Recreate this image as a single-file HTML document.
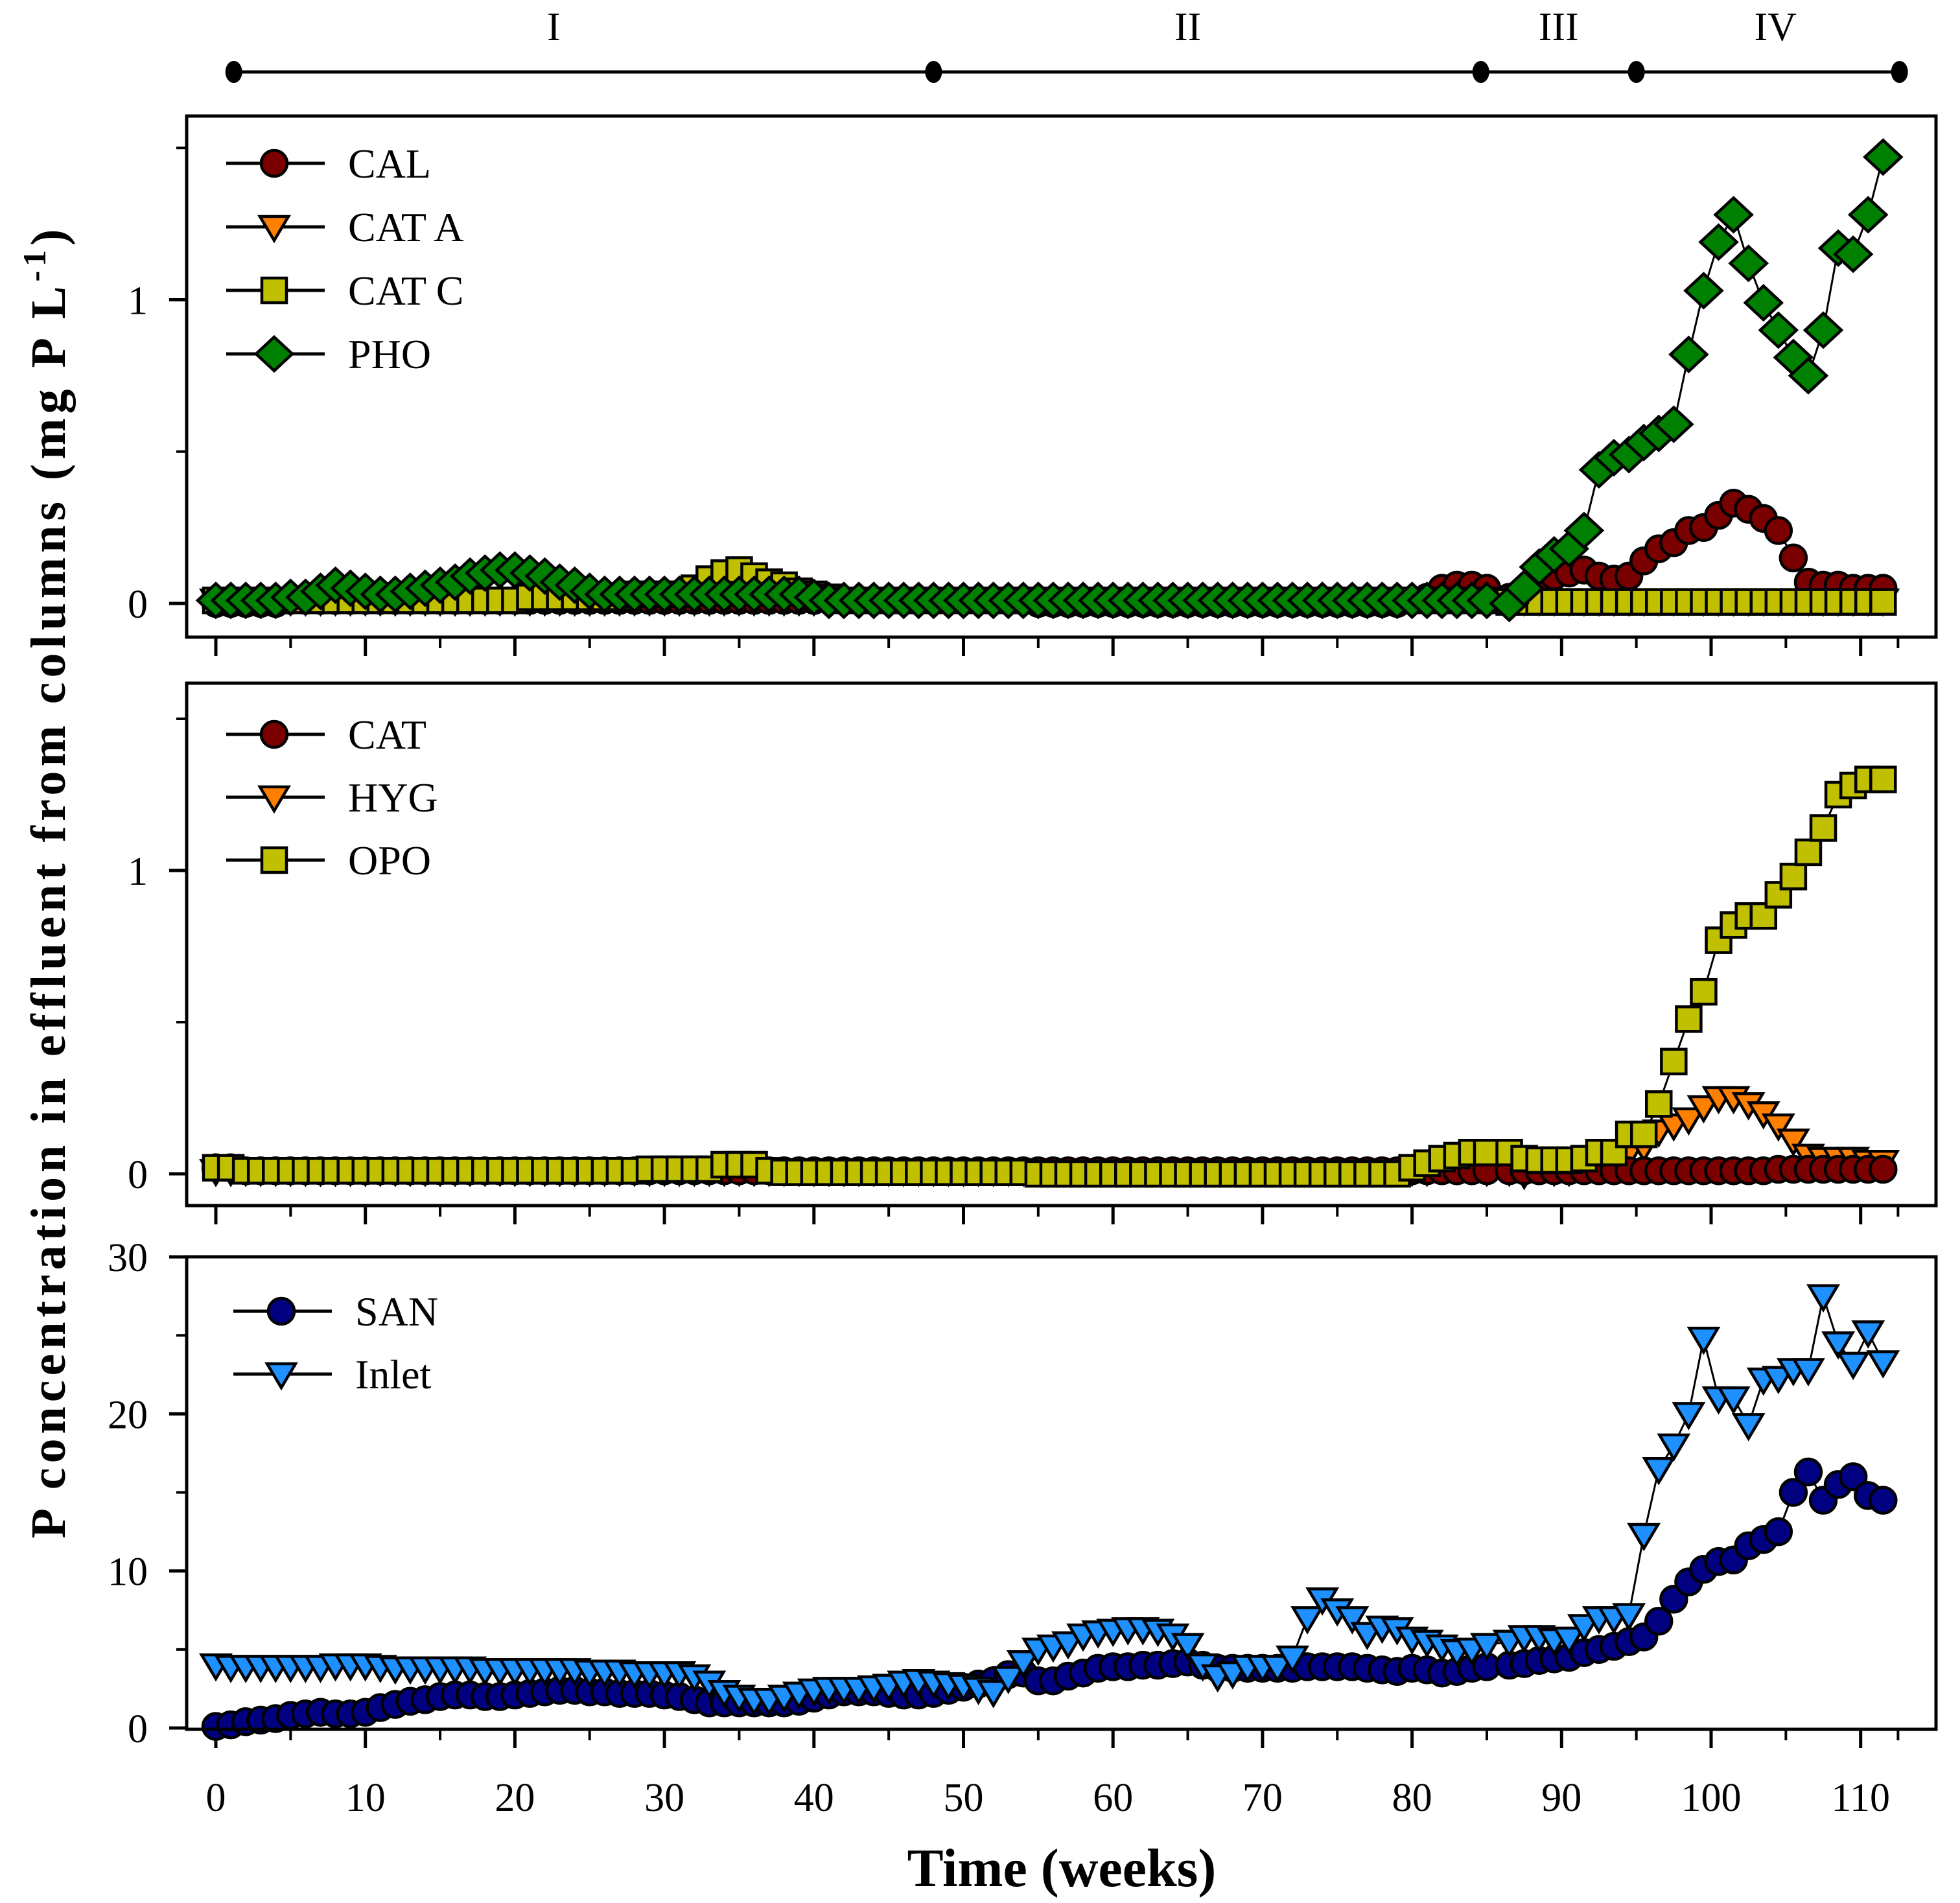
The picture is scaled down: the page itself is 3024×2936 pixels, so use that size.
<!DOCTYPE html>
<html><head><meta charset="utf-8"><style>
html,body{margin:0;padding:0;background:#fff;}
svg{display:block;font-family:"Liberation Serif",serif;}
</style></head><body>
<svg id="chart" width="3024" height="2936" viewBox="0 0 3024 2936" xmlns="http://www.w3.org/2000/svg"></svg>
<script>
// ---- data ----
const weeks=[0,1,2,3,4,5,6,7,8,9,10,11,12,13,14,15,16,17,18,19,20,21,22,23,24,25,26,27,28,29,30,31,32,33,34,35,36,37,38,39,40,41,42,43,44,45,46,47,48,49,50,51,52,53,54,55,56,57,58,59,60,61,62,63,64,65,66,67,68,69,70,71,72,73,74,75,76,77,78,79,80,81,82,83,84,85,86.5,87.5,88.5,89.5,90.5,91.5,92.5,93.5,94.5,95.5,96.5,97.5,98.5,99.5,100.5,101.5,102.5,103.5,104.5,105.5,106.5,107.5,108.5,109.5,110.5,111.5];
const xTicks=[0,10,20,30,40,50,60,70,80,90,100,110];
const xMinor=[5,15,25,35,45,55,65,75,85,95,105,112.5];
const phaseWeeks=[1.2,48,84.6,95,112.6];
const phaseLabels=["I","II","III","IV"];
const phaseLabelWeeks=[22.6,65,89.8,104.3];
// panel 1
const cal=[0,0,0,0,0,0.01,0.01,0.01,0.01,0.01,0.01,0.01,0.01,0.01,0.01,0.01,0.01,0.01,0.01,0.01,0.01,0.01,0.01,0.01,0.01,0.01,0.01,0.01,0.01,0.01,0.01,0.01,0.01,0.01,0.01,0.01,0.01,0.01,0.01,0.01,0.01,0.01,0.01,0.01,0.01,0.01,0.01,0.01,0.01,0.01,0.01,0.01,0.01,0.01,0.01,0,0,0,0,0,0,0,0,0,0,0,0,0,0,0,0,0,0,0,0,0,0,0,0,0,0.01,0.02,0.05,0.06,0.06,0.05,0.02,0.03,0.05,0.09,0.10,0.11,0.09,0.08,0.09,0.14,0.18,0.20,0.24,0.25,0.29,0.33,0.31,0.28,0.24,0.15,0.07,0.06,0.06,0.05,0.05,0.05];
const catA=[0.01,0.01,0.01,0.01,0.01,0.01,0.01,0.01,0.01,0.01,0.01,0.01,0.01,0.01,0.01,0.01,0.01,0.01,0.01,0.01,0.01,0.01,0.01,0.01,0.01,0.01,0.01,0.01,0.01,0.01,0.01,0.01,0.01,0.01,0.01,0.01,0.01,0.01,0.01,0.01,0.01,0.01,0.01,0.01,0.01,0.01,0.01,0.01,0.01,0.01,0.01,0.01,0.01,0.01,0.01,0.01,0.01,0.01,0.01,0.01,0.01,0.01,0.01,0.01,0.01,0.01,0.01,0.01,0.01,0.01,0.01,0.01,0.01,0.01,0.01,0.01,0.01,0.01,0.01,0.01,0.01,0.01,0.01,0.01,0.01,0.01,0.01,0.01,0.01,0.01,0.01,0.01,0.01,0.01,0.01,0.01,0.01,0.01,0.01,0.01,0.01,0.01,0.01,0.01,0.01,0.01,0.01,0.01,0.01,0.01,0.01,0.01];
const catC=[0.01,0.01,0.01,0.01,0.01,0.01,0.01,0.01,0.01,0.01,0.01,0.01,0.01,0.01,0.01,0.01,0.01,0.01,0.01,0.01,0.01,0.02,0.02,0.02,0.02,0.02,0.02,0.02,0.03,0.03,0.03,0.03,0.05,0.08,0.10,0.11,0.09,0.07,0.06,0.04,0.03,0.02,0.01,0.01,0.01,0.01,0.01,0.01,0.01,0.01,0.01,0.01,0.01,0.01,0.01,0.01,0.01,0.01,0.01,0.01,0.01,0.01,0.01,0.01,0.01,0.01,0.01,0.01,0.01,0.01,0.01,0.01,0.01,0.01,0.01,0.01,0.01,0.01,0.01,0.01,0.01,0.01,0.01,0.01,0.01,0.01,0.005,0.005,0.005,0.005,0.005,0.005,0.005,0.005,0.005,0.005,0.005,0.005,0.005,0.005,0.005,0.005,0.005,0.005,0.005,0.005,0.005,0.005,0.005,0.005,0.005,0.005];
const pho=[0.01,0.01,0.01,0.01,0.01,0.02,0.02,0.04,0.06,0.05,0.04,0.03,0.03,0.04,0.05,0.06,0.07,0.09,0.10,0.11,0.11,0.10,0.09,0.07,0.06,0.04,0.03,0.03,0.03,0.03,0.03,0.03,0.03,0.03,0.03,0.03,0.03,0.03,0.03,0.03,0.02,0.01,0.01,0.01,0.01,0.01,0.01,0.01,0.01,0.01,0.01,0.01,0.01,0.01,0.01,0.01,0.01,0.01,0.01,0.01,0.01,0.01,0.01,0.01,0.01,0.01,0.01,0.01,0.01,0.01,0.01,0.01,0.01,0.01,0.01,0.01,0.01,0.01,0.01,0.01,0.01,0.01,0.01,0.01,0.01,0.01,0,0.05,0.12,0.16,0.18,0.24,0.44,0.48,0.49,0.53,0.56,0.59,0.82,1.03,1.19,1.28,1.12,0.99,0.90,0.81,0.75,0.90,1.17,1.15,1.28,1.47];
// panel 2
const cat=[0.02,0.02,0.01,0.01,0.01,0.01,0.01,0.01,0.01,0.01,0.01,0.01,0.01,0.01,0.01,0.01,0.01,0.01,0.01,0.01,0.01,0.01,0.01,0.01,0.01,0.01,0.01,0.01,0.01,0.01,0.01,0.01,0.01,0.01,0.01,0.01,0.01,0.01,0.01,0.01,0.01,0.01,0.01,0.01,0.01,0.01,0.01,0.01,0.01,0.01,0.01,0.01,0.01,0.01,0.01,0.01,0.01,0.01,0.01,0.01,0.01,0.01,0.01,0.01,0.01,0.01,0.01,0.01,0.01,0.01,0.01,0.01,0.01,0.01,0.01,0.01,0.01,0.01,0.01,0.01,0.01,0.01,0.01,0.01,0.01,0.01,0.01,0.01,0.01,0.01,0.01,0.01,0.01,0.01,0.01,0.01,0.01,0.01,0.01,0.01,0.01,0.01,0.01,0.01,0.015,0.015,0.015,0.015,0.015,0.015,0.015,0.015];
const hyg=[0.01,0.01,0.01,0.01,0.01,0.01,0.01,0.01,0.01,0.01,0.01,0.01,0.01,0.01,0.01,0.01,0.01,0.01,0.01,0.01,0.01,0.01,0.01,0.01,0.01,0.01,0.01,0.01,0.01,0.01,0.01,0.01,0.01,0.01,0.01,0.01,0.01,0.01,0.01,0.01,0.01,0.01,0.01,0.01,0.01,0.01,0.01,0.01,0.01,0.01,0.01,0.01,0.01,0.01,0.01,0.01,0.01,0.01,0.01,0.01,0.01,0.01,0.01,0.01,0.01,0.01,0.01,0.01,0.01,0.01,0.01,0.01,0.01,0.01,0.01,0.01,0.01,0.01,0.01,0.01,0.01,0.01,0.02,0.03,0.02,0.01,0.01,0,0.02,0.01,0.01,0.02,0.02,0.04,0.07,0.09,0.14,0.16,0.18,0.22,0.25,0.25,0.23,0.20,0.16,0.11,0.06,0.05,0.05,0.05,0.04,0.04];
const opo=[0.02,0.02,0.01,0.01,0.01,0.01,0.01,0.01,0.01,0.01,0.01,0.01,0.01,0.01,0.01,0.01,0.01,0.01,0.01,0.01,0.01,0.01,0.01,0.01,0.01,0.01,0.01,0.01,0.01,0.015,0.015,0.015,0.015,0.015,0.03,0.03,0.03,0.01,0.005,0.005,0.005,0.005,0.005,0.005,0.005,0.005,0.005,0.005,0.005,0.005,0.005,0.005,0.005,0.005,0.005,0,0,0,0,0,0,0,0,0,0,0,0,0,0,0,0,0,0,0,0,0,0,0,0,0,0.02,0.035,0.05,0.06,0.07,0.07,0.07,0.05,0.045,0.045,0.045,0.05,0.07,0.07,0.13,0.13,0.23,0.37,0.51,0.60,0.77,0.82,0.85,0.85,0.92,0.98,1.06,1.14,1.25,1.28,1.30,1.30];
// panel 3
const san=[0.1,0.2,0.4,0.5,0.6,0.8,0.9,1.0,0.9,0.9,1.0,1.3,1.5,1.7,1.8,2.0,2.1,2.1,2.0,2.0,2.1,2.2,2.3,2.4,2.4,2.3,2.3,2.2,2.2,2.2,2.1,2.0,1.8,1.6,1.6,1.6,1.6,1.6,1.6,1.7,1.9,2.1,2.3,2.3,2.3,2.2,2.1,2.1,2.2,2.4,2.6,2.8,3.0,3.4,3.5,3.0,3.0,3.3,3.5,3.8,3.9,3.9,4.0,4.0,4.1,4.2,4.0,3.8,3.8,3.8,3.8,3.8,3.8,3.9,3.9,3.9,3.9,3.8,3.7,3.6,3.8,3.7,3.5,3.6,3.8,3.9,4.0,4.1,4.3,4.4,4.5,4.8,5.0,5.2,5.5,5.8,6.8,8.2,9.3,10.1,10.6,10.7,11.6,12.0,12.5,15.0,16.3,14.5,15.5,16.0,14.8,14.5];
const inlet=[4.0,3.9,3.9,3.9,3.9,3.9,3.9,3.9,4.0,4.0,4.0,3.9,3.8,3.8,3.8,3.8,3.8,3.8,3.7,3.7,3.7,3.7,3.7,3.7,3.7,3.6,3.6,3.6,3.5,3.5,3.5,3.5,3.3,2.9,2.3,2.0,1.8,1.8,2.0,2.2,2.4,2.5,2.5,2.5,2.6,2.7,2.9,3.0,2.9,2.8,2.7,2.5,2.3,3.2,4.2,5.0,5.2,5.4,5.9,6.1,6.2,6.3,6.3,6.2,5.9,5.3,4.0,3.3,3.5,3.9,3.9,3.9,4.5,7.0,8.2,7.5,7.0,6.0,6.4,6.3,5.7,5.5,5.2,4.9,5.0,5.3,5.5,5.8,5.8,5.6,5.7,6.5,7.0,7.0,7.2,12.3,16.5,18.0,20.0,24.8,21.0,21.0,19.3,22.2,22.3,22.8,22.8,27.5,24.5,23.2,25.2,23.3];

// ---- layout ----
const NS="http://www.w3.org/2000/svg";
const svg=document.getElementById('chart');
const L=288,R=2987;
const xs=w=>333+23.07*w;
function el(tag,attrs,parent){const e=document.createElementNS(NS,tag);for(const k in attrs)e.setAttribute(k,attrs[k]);(parent||svg).appendChild(e);return e;}
const panels=[
 {name:'panel-top',top:179,bottom:983,y0:931,k:468.5,ticks:[0,1],minor:[0.5,1.5]},
 {name:'panel-middle',top:1054,bottom:1860,y0:1811,k:468,ticks:[0,1],minor:[0.5,1.5]},
 {name:'panel-bottom',top:1939,bottom:2668,y0:2666,k:24.23,ticks:[0,10,20,30],minor:[5,15,25]}
];
function marker(g,type,x,y,fill){
 let m;
 if(type==='circle') m=el('circle',{cx:x,cy:y,r:20,fill:fill,stroke:'#000','stroke-width':4.5},g);
 else if(type==='square') m=el('rect',{x:x-19,y:y-19,width:38,height:38,fill:fill,stroke:'#000','stroke-width':4.5},g);
 else if(type==='diamond') m=el('polygon',{points:`${x},${y-26} ${x+28},${y} ${x},${y+26} ${x-28},${y}`,fill:fill,stroke:'#000','stroke-width':4.5},g);
 else m=el('polygon',{points:`${x-22},${y-16} ${x+22},${y-16} ${x},${y+21}`,fill:fill,stroke:'#000','stroke-width':4.5,'stroke-linejoin':'miter'},g);
 return m;
}
function series(p,vals,type,fill,name){
 const g=el('g',{});
 
 
 const pts=weeks.map((w,i)=>[xs(w),p.y0-vals[i]*p.k]);
 const line=el('polyline',{points:pts.map(a=>a.join(',')).join(' '),fill:'none',stroke:'#000','stroke-width':3},g);
 
 
 pts.forEach(a=>{const m=marker(g,type,a[0],a[1],fill);
  
  });
}
function legend(entries,x0,y0,dy){
 const g=el('g',{});
 
 
 entries.forEach((e,i)=>{
  const y=y0+i*dy;
  const eg=el('g',{},g);
  
  
  el('line',{x1:x0,y1:y,x2:x0+152,y2:y,stroke:'#000','stroke-width':5},eg);
  marker(eg,e[1],x0+74,y,e[2]);
  const t=el('text',{x:x0+188,y:y+22,'font-size':64},eg);t.textContent=e[0];
 });
}
panels.forEach((p,pi)=>{
 const g=el('g',{});
 
 
 p.ticks.forEach(v=>{const y=p.y0-v*p.k;
  el('line',{x1:261,y1:y,x2:L,y2:y,stroke:'#000','stroke-width':5},g);
  const t=el('text',{x:228,y:y+22,'font-size':62,'text-anchor':'end'},g);
  
  
  t.textContent=v;});
 p.minor.forEach(v=>{const y=p.y0-v*p.k;
  el('line',{x1:272,y1:y,x2:L,y2:y,stroke:'#000','stroke-width':4},g);});
 xTicks.forEach(w=>el('line',{x1:xs(w),y1:p.bottom,x2:xs(w),y2:p.bottom+29,stroke:'#000','stroke-width':5},g));
 xMinor.forEach(w=>el('line',{x1:xs(w),y1:p.bottom,x2:xs(w),y2:p.bottom+17,stroke:'#000','stroke-width':4},g));
});
const P1=panels[0],P2=panels[1],P3=panels[2];
series(P1,cal,'circle','#7a0000','cal');
series(P1,catA,'tri','#ff8000','cat-a');
series(P1,catC,'square','#c0c000','cat-c');
series(P1,pho,'diamond','#008000','pho');
series(P2,hyg,'tri','#ff8000','hyg');
series(P2,cat,'circle','#7a0000','cat');
series(P2,opo,'square','#c0c000','opo');
series(P3,san,'circle','#000080','san');
series(P3,inlet,'tri','#1e90ff','inlet');
panels.forEach(p=>{const r=el('rect',{x:L,y:p.top,width:R-L,height:p.bottom-p.top,fill:'none',stroke:'#000','stroke-width':5});
 
 });
legend([['CAL','circle','#7a0000'],['CAT A','tri','#ff8000'],['CAT C','square','#c0c000'],['PHO','diamond','#008000']],349,252,98);
legend([['CAT','circle','#7a0000'],['HYG','tri','#ff8000'],['OPO','square','#c0c000']],349,1133,97);
legend([['SAN','circle','#000080'],['Inlet','tri','#1e90ff']],360,2023,97);
xTicks.forEach(w=>{const t=el('text',{x:xs(w),y:2794,'font-size':62,'text-anchor':'middle'});
 
 
 t.textContent=w;});
const pg=el('g',{});


el('line',{x1:xs(phaseWeeks[0]),y1:111,x2:xs(phaseWeeks[phaseWeeks.length-1]),y2:111,stroke:'#000','stroke-width':5},pg);
phaseWeeks.forEach(w=>{const d=el('ellipse',{cx:xs(w),cy:111,rx:13,ry:17,fill:'#000'},pg);
 
 });
phaseLabels.forEach((s,i)=>{const t=el('text',{x:xs(phaseLabelWeeks[i]),y:62,'font-size':62,'text-anchor':'middle'},pg);
 
 
 t.textContent=s;});
const xt=el('text',{x:1638,y:2910,'font-size':84,'font-weight':'bold','text-anchor':'middle'});


xt.textContent='Time (weeks)';
const yt=el('text',{x:0,y:0,'font-size':76,'font-weight':'bold','text-anchor':'middle',transform:'translate(100,1360) rotate(-90)','letter-spacing':'7'});


yt.innerHTML='P concentration in effluent from columns (mg P L<tspan dy="-30" font-size="50">-1</tspan><tspan dy="30">)</tspan>';
</script>
</body></html>
